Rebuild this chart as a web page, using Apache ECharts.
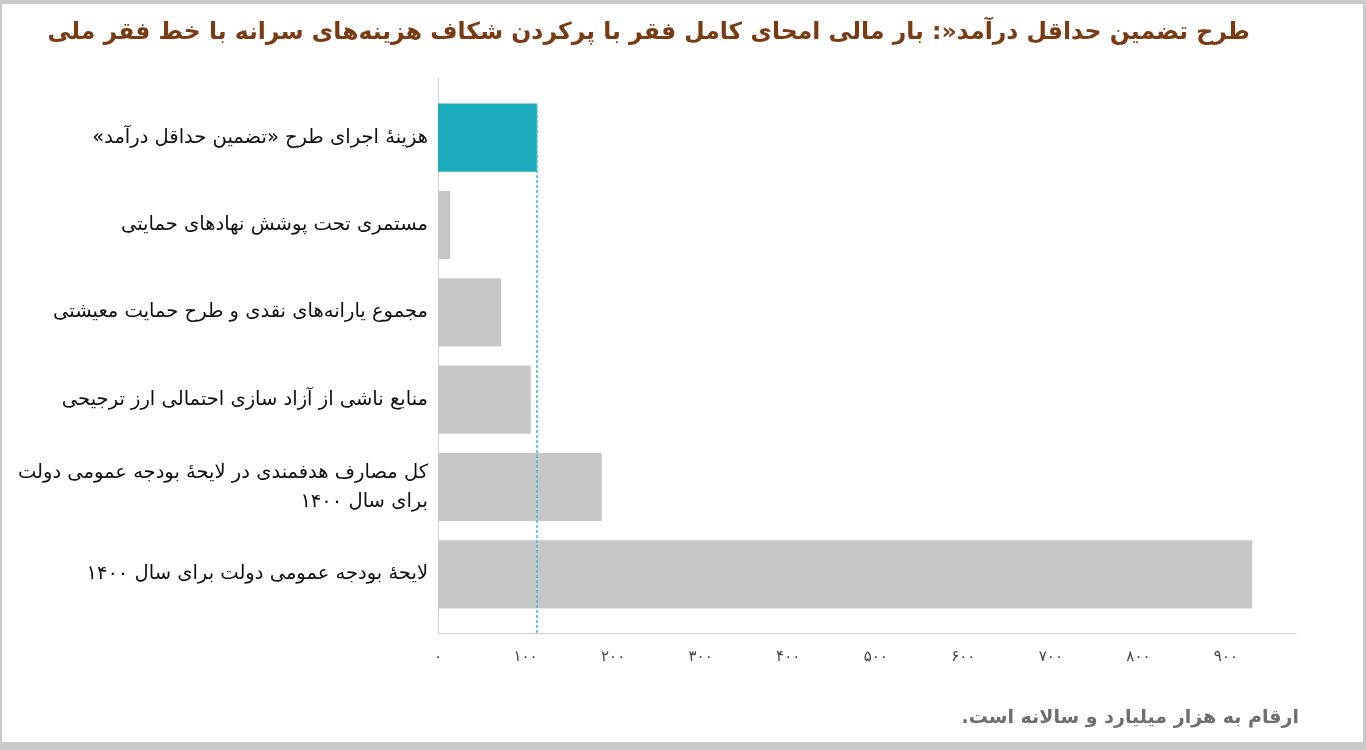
<!DOCTYPE html>
<html>
<head>
<meta charset="utf-8">
<script src="https://cdn.jsdelivr.net/npm/echarts@6/dist/echarts.min.js"></script>
<style>
html,body{margin:0;padding:0;background:#c9c9c9;width:1366px;height:750px;overflow:hidden;}
#chart{position:absolute;left:2px;top:4px;width:1361px;height:738px;background:#fff;direction:rtl;}
</style>
</head>
<body>
<div id="chart" dir="rtl"></div>
<script>
// ---- data ----
const titleText = 'طرح تضمین حداقل درآمد«: بار مالی امحای کامل فقر با پرکردن شکاف هزینه‌های سرانه با خط فقر ملی';
const noteText = 'ارقام به هزار میلیارد و سالانه است.';
const categories = [
  'هزینهٔ اجرای طرح «تضمین حداقل درآمد»',
  'مستمری تحت پوشش نهادهای حمایتی',
  'مجموع یارانه‌های نقدی و طرح حمایت معیشتی',
  'منابع ناشی از آزاد سازی احتمالی ارز ترجیحی',
  'کل مصارف هدفمندی در لایحهٔ بودجه عمومی دولت\nبرای سال ۱۴۰۰',
  'لایحهٔ بودجه عمومی دولت برای سال ۱۴۰۰'
];
const values = [113, 14, 72, 106, 187, 930];
const xMin = 0, xMax = 980, xStep = 100;

const FA = '۰۱۲۳۴۵۶۷۸۹';
function toFa(n){ return String(n).replace(/[0-9]/g, d => FA[+d]); }

const TEAL = '#1aabbc', GRAY = '#c6c7c9', DASH = '#3cc0cc';
const chart = echarts.init(document.getElementById('chart'));
chart.setOption({
  animation: false,
  backgroundColor: '#ffffff',
  textStyle: { fontFamily: 'DejaVu Sans' },
  title: [{
    text: titleText,
    right: 108, top: 12,
    textStyle: { fontFamily: 'DejaVu Sans', fontWeight: 'bold', fontSize: 23.5, color: '#7a3b12' }
  }, {
    text: noteText,
    right: 59, top: 700,
    textStyle: { fontFamily: 'DejaVu Sans', fontWeight: 'bold', fontSize: 19, color: '#6d6e70' }
  }],
  grid: [
    { left: 436, right: 67, top: 90, bottom: 124 },
    { left: 436, right: 67, top: 74, bottom: 109 }
  ],
  xAxis: [
    { gridIndex: 0, type: 'value', min: xMin, max: xMax, interval: xStep, show: false },
    { gridIndex: 1, type: 'value', min: xMin, max: xMax, interval: xStep,
      axisLine: { show: true, lineStyle: { color: '#cfd0d2', width: 1 } },
      axisTick: { show: false }, splitLine: { show: false },
      axisLabel: { showMaxLabel: false, margin: 17, color: '#444', fontSize: 15,
        fontFamily: 'DejaVu Sans', formatter: v => toFa(v) } }
  ],
  yAxis: [
    { gridIndex: 0, type: 'category', data: categories, inverse: true,
      axisLine: { show: false }, axisTick: { show: false },
      axisLabel: { margin: 10, color: '#111', fontSize: 19.5, lineHeight: 29,
        fontFamily: 'DejaVu Sans', align: 'right' } },
    { gridIndex: 1, type: 'value', min: 0, max: 1,
      axisLine: { show: true, lineStyle: { color: '#cfd0d2', width: 1 } },
      axisTick: { show: false }, axisLabel: { show: false }, splitLine: { show: false } }
  ],
  series: [
    { type: 'bar', xAxisIndex: 0, yAxisIndex: 0, data: values, barCategoryGap: '22%',
      itemStyle: { color: p => p.dataIndex === 0 ? TEAL : GRAY },
      silent: true },
    { type: 'scatter', xAxisIndex: 1, yAxisIndex: 1, data: [], silent: true,
      itemStyle: { color: DASH },
      markLine: { symbol: ['none','none'], silent: true, label: { show: false },
        lineStyle: { type: [3, 2], color: DASH, width: 1.5, opacity: 1 },
        data: [[ { coord: [values[0], 0] }, { coord: [values[0], 0.953] } ]] } }
  ]
});
</script>
</body>
</html>
